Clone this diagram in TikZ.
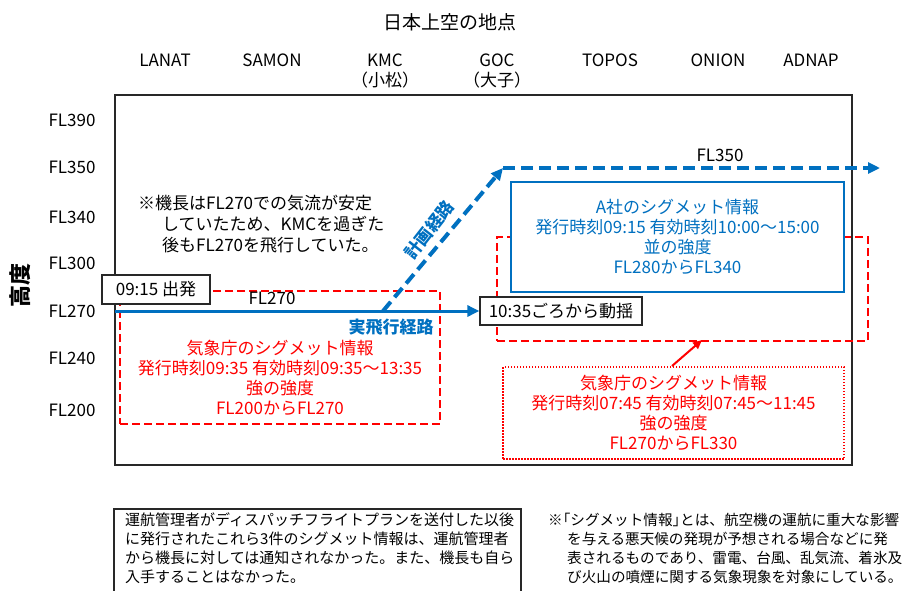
\documentclass[tikz,border=0pt]{standalone}
\usepackage{fontspec}
\setmainfont{Noto Sans CJK JP}
\usetikzlibrary{arrows.meta}
\definecolor{routeblue}{RGB}{0,112,192}
\definecolor{sigred}{RGB}{255,0,0}
\definecolor{framegray}{RGB}{40,40,40}
\begin{document}
\begin{tikzpicture}[x=1pt,y=-1pt,
  txt/.style={inner sep=0pt, font=\fontsize{17}{20}\selectfont, align=center},
  smalltxt/.style={inner sep=0pt, font=\fontsize{15}{19}\selectfont, align=left},
  blacktag/.style={draw=framegray, line width=1.3pt, fill=white, inner sep=0pt, font=\fontsize{17}{20}\selectfont},
  sigbox/.style={draw=sigred, line width=2.4pt, dash pattern=on 8pt off 4pt, inner sep=0pt},
  sigdots/.style={draw=sigred, line width=1.5pt, dash pattern=on 1.5pt off 1.5pt, inner sep=0pt},
  bluebox/.style={draw=routeblue, line width=2.2pt, fill=white, inner sep=0pt, text=routeblue, font=\fontsize{17}{20}\selectfont, align=center},
  actual/.style={draw=routeblue, line width=3pt, -{Triangle[length=12pt,width=11pt]}},
  planned/.style={draw=routeblue, line width=4pt, dash pattern=on 12pt off 6pt, -{Triangle[length=12pt,width=11pt]}},
  redarrow/.style={draw=sigred, line width=2pt, -{Triangle[length=9pt,width=8pt]}}
]
\useasboundingbox (0,0) rectangle (912,590);

% title and waypoints
\node[txt, font=\fontsize{19}{22}\selectfont] (title) at (450,22) {日本上空の地点};
\node[txt] (lanat) at (165,60) {LANAT};
\node[txt] (samon) at (272,60) {SAMON};
\node[txt] (kmc) at (385,60) {KMC};
\node[txt] (kmcjp) at (385,80) {（小松）};
\node[txt] (goc) at (497,60) {GOC};
\node[txt] (gocjp) at (497,80) {（大子）};
\node[txt] (topos) at (610,60) {TOPOS};
\node[txt] (onion) at (718,60) {ONION};
\node[txt] (adnap) at (811,60) {ADNAP};

% altitude labels
\node[txt] (fl390) at (72,120) {FL390};
\node[txt] (fl350) at (72,167) {FL350};
\node[txt] (fl340) at (72,217) {FL340};
\node[txt] (fl300) at (72,263) {FL300};
\node[txt] (fl270) at (72,311) {FL270};
\node[txt] (fl240) at (72,358) {FL240};
\node[txt] (fl200) at (72,410) {FL200};
\node[txt, font=\fontsize{22}{24}\selectfont\bfseries, rotate=90] (alt) at (20,285) {高度};

% frame
\draw[framegray, line width=1.3pt] (115,95) rectangle (852,465);

% SIGMET areas (red)
\node[sigbox, minimum width=320pt, minimum height=133pt] (jma1) at (280,357.5) {};
\node[sigbox, minimum width=371pt, minimum height=104pt] (jma2) at (682.5,289) {};
\node[sigdots, minimum width=341pt, minimum height=92pt, text=sigred, font=\fontsize{17}{20}\selectfont, align=center] (jma3) at (673.5,413) {気象庁のシグメット情報\\発行時刻07:45 有効時刻07:45～11:45\\強の強度\\FL270からFL330};
\node[txt, text=sigred] (jma1txt) at (280,378) {気象庁のシグメット情報\\発行時刻09:35 有効時刻09:35～13:35\\強の強度\\FL200からFL270};
\coordinate (jma2hit) at (702,340);
\draw[redarrow] (672,366) -- (jma2hit);

% A company SIGMET
\node[bluebox, minimum width=333pt, minimum height=110pt] (asig) at (677.5,237) {A社のシグメット情報\\発行時刻09:15 有効時刻10:00～15:00\\並の強度\\FL280からFL340};

% routes
\coordinate (start) at (115,311);
\coordinate (kmcpt) at (383,311);
\coordinate (turn) at (503,168);
\coordinate (routeend) at (880,168);
\node[blacktag, minimum width=162pt, minimum height=28pt] (shake) at (561,311) {10:35ごろから動揺};
\draw[actual] (start) -- (shake.west);
\draw[planned] (kmcpt) -- (turn);
\draw[planned] (turn) -- (routeend);
\node[blacktag, minimum width=108pt, minimum height=29pt] (dep) at (156,289.5) {09:15 出発};

\node[txt] (fl270lbl) at (272,298) {FL270};
\node[txt] (fl350lbl) at (720,155) {FL350};
\node[txt, text=routeblue, font=\fontsize{17}{20}\selectfont\bfseries] (actlbl) at (391,327) {実飛行経路};
\node[txt, text=routeblue, font=\fontsize{17}{20}\selectfont\bfseries, rotate=52] (planlbl) at (429,230) {計画経路};

% captain's note
\node[txt, align=left, anchor=north west, font=\fontsize{17}{21}\selectfont] (capnote) at (138,195) {※機長はFL270での気流が安定\\\hspace*{24pt}していたため、KMCを過ぎた\\\hspace*{24pt}後もFL270を飛行していた。};

% bottom notes
\node[smalltxt, anchor=north west] (dispnote) at (125,513) {運航管理者がディスパッチフライトプランを送付した以後\\に発行されたこれら3件のシグメット情報は、運航管理者\\から機長に対しては通知されなかった。また、機長も自ら\\入手することはなかった。};
\draw[framegray, line width=1.3pt] (114,592) |- (521,509) -- (521,592);
\node[smalltxt, anchor=north west, font=\fontsize{14.6}{19}\selectfont] (signote) at (548,513) {※\kern-7pt「シグメット情報」\kern-7pt とは、航空機の運航に重大な影響\\\hspace*{19pt}を与える悪天候の発現が予想される場合などに発\\\hspace*{19pt}表されるものであり、雷電、台風、乱気流、着氷及\\\hspace*{19pt}び火山の噴煙に関する気象現象を対象にしている。};
\end{tikzpicture}
\end{document}
